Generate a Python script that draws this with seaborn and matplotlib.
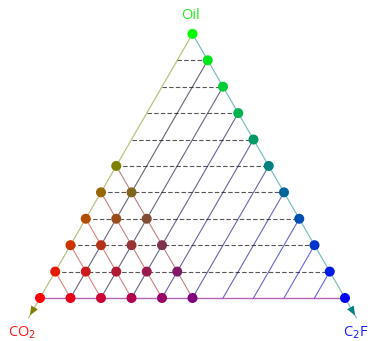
import numpy as np
import pandas as pd
import matplotlib
matplotlib.use("Agg")
import matplotlib.pyplot as plt
import seaborn as sns

# sample points: oil fraction and C2F fraction (CO2 is the rest)
oil = [0.0, 0.0, 0.0, 0.0, 0.0, 0.0, 0.0,
       0.1, 0.1, 0.1, 0.1, 0.1, 0.1,
       0.2, 0.2, 0.2, 0.2, 0.2,
       0.3, 0.3, 0.3, 0.3,
       0.4, 0.4, 0.4,
       0.5, 0.5,
       0.6, 0.7, 0.8, 0.9, 1.0]
c2f = [0.0, 0.1, 0.2, 0.3, 0.4, 0.5, 1.0,
       0.0, 0.1, 0.2, 0.3, 0.4, 0.9,
       0.0, 0.1, 0.2, 0.3, 0.8,
       0.0, 0.1, 0.2, 0.7,
       0.0, 0.1, 0.6,
       0.0, 0.5,
       0.4, 0.3, 0.2, 0.1, 0.0]

oil_levels = [0.1, 0.2, 0.3, 0.4, 0.5, 0.6, 0.7, 0.8, 0.9]   # dashed lines
c2f_levels = [0.1, 0.2, 0.3, 0.4, 0.5, 0.6, 0.7, 0.8, 0.9]   # blue lines
co2_levels = [0.5, 0.6, 0.7, 0.8, 0.9]                       # red lines

labels = ["CO$_2$", "C$_2$F", "Oil"]

H = np.sqrt(3) / 2


def xy(o, c):
    return c + o / 2, o * H


df = pd.DataFrame({"oil": oil, "c2f": c2f})
df["co2"] = 1 - df["oil"] - df["c2f"]
df["x"], df["y"] = xy(df["oil"], df["c2f"])
point_colors = [(max(r, 0), g, b) for r, g, b in
                zip(df["co2"].round(3), df["oil"], df["c2f"])]

sns.set_style("white")
fig = plt.figure(figsize=(3.73, 3.41), dpi=100)
ax = fig.add_axes([0, 0, 1, 1])

# constant oil (dashed)
for o in oil_levels:
    x0, y0 = xy(o, 0)
    x1, y1 = xy(o, 1 - o)
    ax.plot([x0, x1], [y0, y1], ls=(0, (4, 2)), color="#444444", lw=0.8,
            alpha=0.9, zorder=1)

# constant C2F
for c in c2f_levels:
    x0, y0 = xy(0, c)
    x1, y1 = xy(1 - c, c)
    ax.plot([x0, x1], [y0, y1], color=(0, 0, c), lw=0.8, alpha=0.6, zorder=1)

# constant CO2 (lower-left region)
for r in co2_levels:
    x0, y0 = xy(1 - r, 0)
    x1, y1 = xy(0, 1 - r)
    ax.plot([x0, x1], [y0, y1], color=(r, 0, 0), lw=0.8, alpha=0.5, zorder=1)

# triangle edges
top = xy(1, 0)
ext = 0.075
left_tip = (-ext * 0.5, -ext * H)
right_tip = (1 + ext * 0.5, -ext * H)
ax.plot([top[0], left_tip[0]], [top[1], left_tip[1]], color=(0.5, 0.5, 0),
        lw=0.9, alpha=0.5, zorder=1)
ax.plot([top[0], right_tip[0]], [top[1], right_tip[1]], color=(0, 0.5, 0.5),
        lw=0.9, alpha=0.5, zorder=1)
ax.plot([0, 1], [0, 0], color=(0.5, 0, 0.5), lw=1.0, alpha=0.6, zorder=1)
for tip, col in [(left_tip, (0.5, 0.5, 0)), (right_tip, (0, 0.5, 0.5))]:
    start = (tip[0] * 0.5 + (0 if tip[0] < 0.5 else 1) * 0.5, tip[1] * 0.5)
    ax.annotate("", xy=tip, xytext=start,
                arrowprops=dict(arrowstyle="-|>,head_length=0.6,head_width=0.25",
                                color=col, lw=0, mutation_scale=11))

sns.scatterplot(data=df, x="x", y="y", c=point_colors, s=52, linewidth=0,
                ax=ax, zorder=3, legend=False)

font = ["Open Sans", "DejaVu Sans"]
ax.text(-0.059, -0.115, labels[0], color="#ff1a1a", fontsize=10.5,
        ha="center", va="center", family=font)
ax.text(1.078, -0.115, labels[1], color="#1a1aff", fontsize=10.5,
        ha="right", va="center", family=font)
ax.text(0.495, 0.925, labels[2], color="#22ee22", fontsize=10.5,
        ha="center", va="center", family=font)

ax.set_xlim(-40 / 305, 333 / 305)
ax.set_ylim(-43 / 305, 298 / 305)
ax.set_axis_off()

fig.savefig("out.png", dpi=100)
